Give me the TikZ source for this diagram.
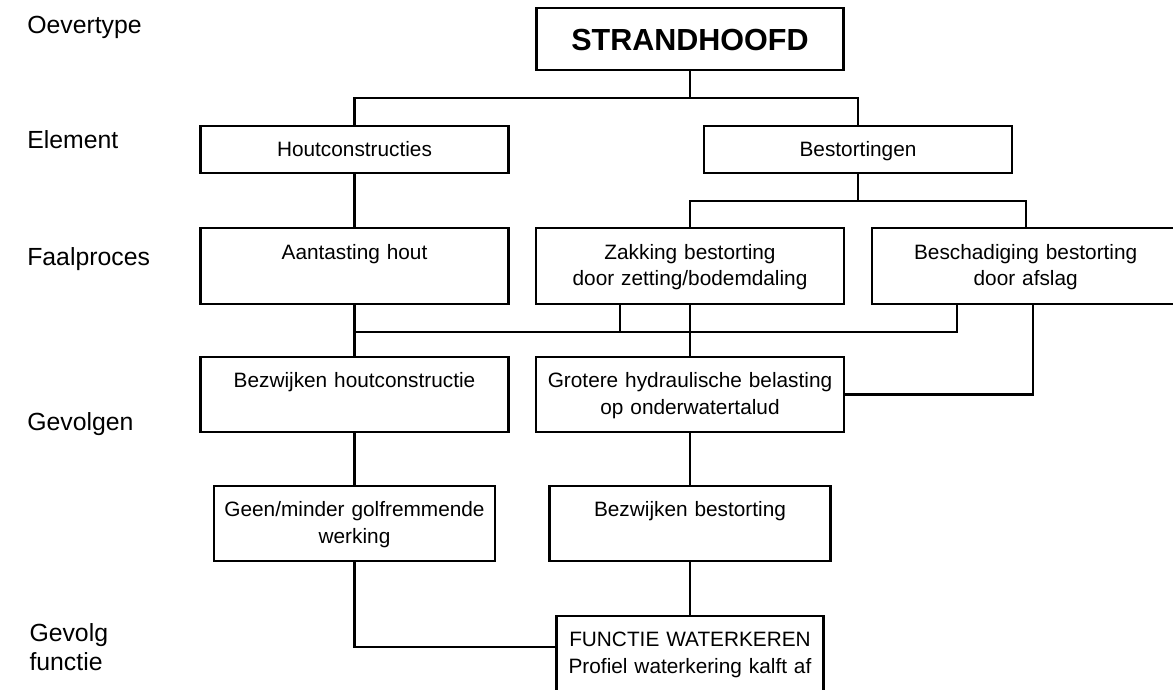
\documentclass[tikz,border=0pt]{standalone}
\usepackage{fontspec}
\setmainfont{Liberation Sans}
\usetikzlibrary{calc}
\begin{document}
\begin{tikzpicture}[x=1pt,y=-1pt,line width=2.2pt,
  every node/.style={inner sep=0pt,outer sep=0pt},
  % box: text width, distance top->first baseline, rest of the height
  stepbox/.style n args={3}{draw,rectangle,anchor=north,align=center,
    text width=#1pt,text height=#2pt,text depth=#3pt,
    font=\fontsize{20.8}{26.7}\selectfont},
  rowlabel/.style={anchor=base west,align=left,
    font=\fontsize{24.8}{29}\selectfont}]

\useasboundingbox (0,0) rectangle (1173,689);
\fill[white] (0,0) rectangle (1173,689);
\clip (0,0) rectangle (1173,689);

% level captions
\node[rowlabel] (lOever) at (27.3,33.3) {Oevertype};
\node[rowlabel] (lElem)  at (27.3,148.3) {Element};
\node[rowlabel] (lFaal)  at (27.3,265.7) {Faalproces};
\node[rowlabel] (lGevo)  at (27.3,430.5) {Gevolgen};
\node[rowlabel,text width=150pt] (lFunc) at (29.5,641) {Gevolg\\functie};

% boxes
\node[stepbox={307}{41.7}{20.3},font=\bfseries\fontsize{30.5}{36}\selectfont]
  (top) at (690,8.3) {STRANDHOOFD};
\node[stepbox={308}{30.3}{17.3}] (hout)  at (354.5,125.7) {Houtconstructies};
\node[stepbox={308}{30.3}{17.3}] (best)  at (858,125.7) {Bestortingen};
\node[stepbox={308}{31}{44.6}]   (aant)  at (354.5,228) {Aantasting hout};
\node[stepbox={308}{31}{44.6}]   (zak)   at (690,228) {Zakking bestorting\\door zetting/bodemdaling};
\node[stepbox={308}{31}{44.6}]   (besch) at (1025.7,228) {Beschadiging bestorting\\door afslag};
\node[stepbox={308}{31}{44.6}]   (bezh)  at (354.5,356.7) {Bezwijken houtconstructie};
\node[stepbox={308}{31}{44.6}]   (grot)  at (690,356.7) {Grotere hydraulische belasting\\op onderwatertalud};
\node[stepbox={281}{31}{44.5}]   (geen)  at (354.5,485.7) {Geen/minder golfremmende\\werking};
\node[stepbox={281}{31}{44.5}]   (bezb)  at (690,485.7) {Bezwijken bestorting};
\node[stepbox={267}{30.7}{69.3}] (func)  at (690,616) {FUNCTIE WATERKEREN\\Profiel waterkering kalft af};

% bus heights
\coordinate (barA) at (0,98.3);
\coordinate (barB) at (0,201);
\coordinate (barC) at (0,332);

% connectors
\draw (top.south) -- (top.south |- barA);
\draw (hout.north) -- (hout.north |- barA) -- (best.north |- barA) -- (best.north);
\draw (hout.south) -- (aant.north);
\draw (best.south) -- (best.south |- barB);
\draw (zak.north) -- (zak.north |- barB) -- (besch.north |- barB) -- (besch.north);
\draw (aant.south) -- (bezh.north);
\draw (zak.south) -- (grot.north);
\coordinate (zakL)   at ($(zak.south)+(-70,0)$);
\coordinate (beschL) at ($(besch.south)+(-69,0)$);
\coordinate (beschR) at ($(besch.south)+(7,0)$);
\draw (zakL) -- (zakL |- barC);
\draw (beschL) -- (beschL |- barC) -- (aant.south |- barC);
\draw (beschR) |- (grot.east);
\draw (bezh.south) -- (geen.north);
\draw (grot.south) -- (bezb.north);
\coordinate (funcIn) at ($(func.north west)+(0,30.7)$);
\draw (geen.south) |- (funcIn);
\draw (bezb.south) -- (func.north);
\end{tikzpicture}
\end{document}
